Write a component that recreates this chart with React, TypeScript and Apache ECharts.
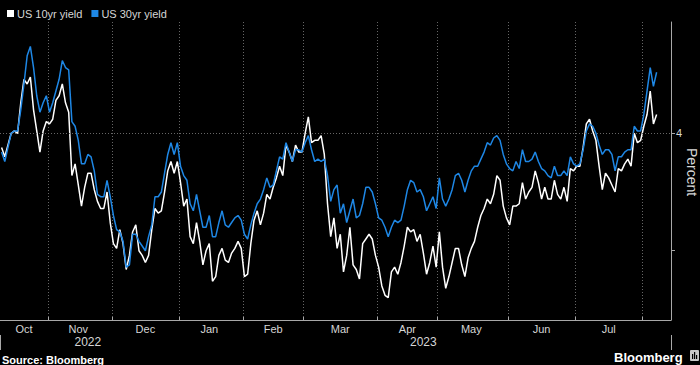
import React, { useEffect, useRef } from 'react';
import * as echarts from 'echarts';

// ---- Data ----
const START_DATE = '2022-10-11';
const END_DATE = '2023-08-11';
const HOLIDAYS = [
  '2022-11-11', '2022-11-24', '2022-12-26', '2023-01-02', '2023-01-16',
  '2023-02-20', '2023-04-07', '2023-05-29', '2023-06-19',
];
const MONTH_NAMES = ['Jan', 'Feb', 'Mar', 'Apr', 'May', 'Jun', 'Jul', 'Aug', 'Sep', 'Oct', 'Nov', 'Dec'];
const SERIES_NAMES = ['US 10yr yield', 'US 30yr yield'];
const Y_AXIS_NAME = 'Percent';

const US10Y = [
  // Oct 2022
  3.94, 3.90, 3.95, 4.00, 4.01, 4.00, 4.13, 4.23, 4.21, 4.24, 4.10, 4.01, 3.92, 4.01, 4.05,
  // Nov
  4.04, 4.06, 4.14, 4.16, 4.21, 4.13, 4.09, 3.82, 3.87, 3.78, 3.69, 3.77, 3.83, 3.83, 3.76, 3.71, 3.68, 3.68, 3.75, 3.62,
  // Dec
  3.53, 3.51, 3.59, 3.53, 3.42, 3.48, 3.58, 3.61, 3.50, 3.48, 3.45, 3.48, 3.59, 3.68, 3.66, 3.67, 3.75, 3.84, 3.88, 3.83, 3.88,
  // Jan 2023
  3.79, 3.69, 3.72, 3.56, 3.53, 3.62, 3.54, 3.44, 3.50, 3.53, 3.37, 3.39, 3.48, 3.51, 3.46, 3.45, 3.49, 3.51, 3.54, 3.51,
  // Feb
  3.39, 3.40, 3.53, 3.63, 3.67, 3.61, 3.66, 3.74, 3.72, 3.77, 3.81, 3.86, 3.82, 3.95, 3.92, 3.88, 3.95, 3.92, 3.92,
  // Mar
  4.00, 4.07, 3.96, 3.97, 3.97, 3.99, 3.91, 3.70, 3.56, 3.64, 3.51, 3.57, 3.41, 3.48, 3.60, 3.44, 3.42, 3.38, 3.53, 3.55, 3.57, 3.55, 3.48,
  // Apr
  3.43, 3.35, 3.31, 3.30, 3.41, 3.43, 3.40, 3.45, 3.52, 3.60, 3.58, 3.59, 3.54, 3.57, 3.49, 3.40, 3.45, 3.52, 3.43,
  // May
  3.58, 3.43, 3.34, 3.39, 3.45, 3.51, 3.51, 3.44, 3.39, 3.47, 3.51, 3.54, 3.60, 3.65, 3.68, 3.72, 3.70, 3.74, 3.82, 3.80, 3.69, 3.64,
  // Jun
  3.61, 3.69, 3.69, 3.70, 3.79, 3.72, 3.75, 3.77, 3.84, 3.79, 3.72, 3.77, 3.72, 3.72, 3.80, 3.74, 3.72, 3.77, 3.71, 3.85, 3.84,
  // Jul
  3.86, 3.86, 3.94, 4.04, 4.06, 4.01, 3.97, 3.86, 3.76, 3.83, 3.81, 3.78, 3.75, 3.85, 3.84, 3.87, 3.89, 3.86, 4.00, 3.96, 3.97,
  // Aug
  4.03, 4.08, 4.18, 4.04, 4.08,
];

const US30Y = [
  // Oct 2022
  3.92, 3.88, 3.94, 4.00, 4.01, 4.01, 4.10, 4.21, 4.33, 4.37, 4.28, 4.16, 4.09, 4.13, 4.16,
  // Nov
  4.09, 4.13, 4.18, 4.23, 4.31, 4.28, 4.27, 4.05, 4.03, 3.97, 3.87, 3.87, 3.91, 3.90, 3.84, 3.74, 3.73, 3.73, 3.80, 3.73,
  // Dec
  3.65, 3.59, 3.58, 3.54, 3.43, 3.44, 3.57, 3.57, 3.54, 3.52, 3.50, 3.56, 3.61, 3.73, 3.73, 3.75, 3.83, 3.91, 3.96, 3.91, 3.96,
  // Jan 2023
  3.86, 3.82, 3.80, 3.70, 3.67, 3.74, 3.67, 3.60, 3.60, 3.65, 3.56, 3.56, 3.62, 3.67, 3.61, 3.60, 3.62, 3.64, 3.65, 3.63,
  // Feb
  3.57, 3.55, 3.61, 3.66, 3.70, 3.72, 3.76, 3.81, 3.77, 3.78, 3.84, 3.90, 3.89, 3.96, 3.92, 3.88, 3.93, 3.93, 3.92,
  // Mar
  3.96, 3.99, 3.93, 3.88, 3.89, 3.88, 3.89, 3.82, 3.71, 3.76, 3.78, 3.66, 3.70, 3.62, 3.67, 3.72, 3.64, 3.65, 3.70, 3.77, 3.77, 3.75, 3.70,
  // Apr
  3.64, 3.63, 3.60, 3.56, 3.60, 3.63, 3.62, 3.63, 3.69, 3.76, 3.80, 3.79, 3.75, 3.76, 3.73, 3.67, 3.70, 3.73, 3.68,
  // May
  3.81, 3.72, 3.69, 3.72, 3.76, 3.82, 3.83, 3.80, 3.75, 3.80, 3.84, 3.86, 3.86, 3.89, 3.92, 3.96, 3.95, 3.98, 3.99, 3.97, 3.91, 3.87,
  // Jun
  3.85, 3.84, 3.88, 3.85, 3.93, 3.88, 3.88, 3.89, 3.92, 3.88, 3.85, 3.84, 3.82, 3.81, 3.86, 3.82, 3.82, 3.84, 3.82, 3.90, 3.87,
  // Jul
  3.86, 3.87, 3.93, 4.01, 4.04, 4.03, 4.00, 3.95, 3.91, 3.93, 3.93, 3.91, 3.84, 3.90, 3.90, 3.92, 3.93, 3.93, 4.03, 4.01, 4.01,
  // Aug
  4.08, 4.18, 4.28, 4.20, 4.26,
];

const Y_MIN = 3.205;
const Y_MAX = 4.474;
const Y_TICKS = [3.5, 4];
const Y_LABELS = [4];
const Y_GRID = [4];

// ---- Helpers ----
function tradingDays(): string[] {
  const out: string[] = [];
  const d = new Date(START_DATE + 'T00:00:00Z');
  const end = new Date(END_DATE + 'T00:00:00Z');
  while (d.getTime() <= end.getTime()) {
    const wd = d.getUTCDay();
    const s = d.toISOString().slice(0, 10);
    if (wd !== 0 && wd !== 6 && HOLIDAYS.indexOf(s) < 0) out.push(s);
    d.setUTCDate(d.getUTCDate() + 1);
  }
  return out;
}

const FONT = '"Liberation Sans", Arial, sans-serif';
const AXIS_COLOR = '#a8a8a8';
const TEXT_COLOR = '#d6d6d6';
const GRID_COLOR = '#666666';
const WHITE = '#ffffff';
const BLUE = '#1e87e5';

export default function App() {
  const ref = useRef<HTMLDivElement | null>(null);

  useEffect(() => {
    if (!ref.current) return;
    const chart = echarts.init(ref.current, null, { renderer: 'svg' });
    const dates = tradingDays();

    // month groups
    const monthStarts = new Set<number>();
    const monthMids = new Set<number>();
    const groups: { first: number; last: number }[] = [];
    dates.forEach((d, i) => {
      if (i === 0 || d.slice(0, 7) !== dates[i - 1].slice(0, 7)) {
        if (i > 0) monthStarts.add(i);
        groups.push({ first: i, last: i });
      } else {
        groups[groups.length - 1].last = i;
      }
    });
    groups.forEach((g) => {
      if (g.last - g.first + 1 >= 12) monthMids.add(Math.floor((g.first + g.last) / 2));
    });

    // year groups
    const yearMids = new Set<number>();
    let yearStart = -1;
    const ygroups: { first: number; last: number }[] = [];
    dates.forEach((d, i) => {
      if (i === 0 || d.slice(0, 4) !== dates[i - 1].slice(0, 4)) {
        if (i > 0) yearStart = i;
        ygroups.push({ first: i, last: i });
      } else {
        ygroups[ygroups.length - 1].last = i;
      }
    });
    ygroups.forEach((g) => yearMids.add(Math.floor((g.first + g.last) / 2)));

    const option: any = {
      animation: false,
      backgroundColor: '#000000',
      textStyle: { fontFamily: FONT },
      legend: {
        left: 2,
        top: 3,
        icon: 'rect',
        itemWidth: 7,
        itemHeight: 7,
        itemGap: 9,
        selectedMode: false,
        data: SERIES_NAMES,
        textStyle: { color: TEXT_COLOR, fontSize: 11, fontFamily: FONT, padding: [0, 0, 0, -2] },
      },
      grid: { left: 0, right: 29, top: 22, bottom: 45, containLabel: false, outerBoundsMode: 'none' },
      xAxis: [
        {
          type: 'category',
          data: dates,
          boundaryGap: true,
          position: 'bottom',
          axisLine: { show: true, lineStyle: { color: AXIS_COLOR, width: 1 } },
          axisTick: {
            show: true,
            inside: true,
            length: 3,
            interval: (i: number) => monthStarts.has(i),
            lineStyle: { color: AXIS_COLOR },
          },
          axisLabel: {
            show: true,
            interval: (i: number) => monthMids.has(i),
            formatter: (v: string) => MONTH_NAMES[parseInt(v.slice(5, 7), 10) - 1],
            color: TEXT_COLOR,
            fontSize: 11,
            fontFamily: FONT,
            margin: 3,
          },
          splitLine: {
            show: true,
            interval: (i: number) => monthStarts.has(i),
            lineStyle: { color: GRID_COLOR, type: [1, 2], width: 1 },
          },
        },
        {
          type: 'category',
          data: dates,
          boundaryGap: true,
          position: 'bottom',
          offset: 15,
          axisLine: { show: false },
          axisTick: {
            show: true,
            length: 15,
            interval: (i: number) => i === yearStart,
            lineStyle: { color: AXIS_COLOR },
          },
          axisLabel: {
            show: true,
            interval: (i: number) => yearMids.has(i),
            formatter: (v: string) => v.slice(0, 4),
            color: TEXT_COLOR,
            fontSize: 12,
            fontFamily: FONT,
            margin: 1,
          },
          splitLine: { show: false },
        },
      ],
      yAxis: {
        type: 'value',
        position: 'right',
        min: Y_MIN,
        max: Y_MAX,
        axisLine: { show: true, lineStyle: { color: AXIS_COLOR, width: 1 } },
        axisTick: { show: true, length: 4, customValues: Y_TICKS, lineStyle: { color: AXIS_COLOR } },
        axisLabel: { show: true, customValues: Y_LABELS, color: TEXT_COLOR, fontSize: 11, fontFamily: FONT, margin: 5 },
        splitLine: { show: false },
      },
      series: [
        {
          name: SERIES_NAMES[0],
          type: 'line',
          data: US10Y,
          xAxisIndex: 0,
          symbol: 'none',
          lineStyle: { color: WHITE, width: 1.5 },
          itemStyle: { color: WHITE },
          markLine: {
            silent: true,
            symbol: 'none',
            label: { show: false },
            lineStyle: { color: GRID_COLOR, type: [1, 2], width: 1 },
            data: Y_GRID.map((v) => ({ yAxis: v })),
          },
        },
        {
          name: SERIES_NAMES[1],
          type: 'line',
          data: US30Y,
          xAxisIndex: 0,
          symbol: 'none',
          lineStyle: { color: BLUE, width: 1.5 },
          itemStyle: { color: BLUE },
        },
      ],
      graphic: [
        {
          type: 'text',
          x: 691.5,
          y: 172,
          rotation: -Math.PI / 2,
          style: {
            text: Y_AXIS_NAME,
            fill: TEXT_COLOR,
            font: '14px "Liberation Sans", Arial, sans-serif',
            align: 'center',
            verticalAlign: 'middle',
          },
        },
        {
          type: 'text',
          x: 2,
          y: 365.5,
          style: {
            text: 'Source: Bloomberg',
            fill: '#ffffff',
            font: 'bold 11px "Liberation Sans", Arial, sans-serif',
            verticalAlign: 'bottom',
          },
        },
        {
          type: 'text',
          x: 614,
          y: 364,
          style: {
            text: 'Bloomberg',
            fill: '#ffffff',
            font: 'bold 13px "Liberation Sans", Arial, sans-serif',
            verticalAlign: 'bottom',
          },
        },
        {
          type: 'group',
          x: 690,
          y: 350,
          children: [
            { type: 'rect', shape: { x: 0, y: 0, width: 9, height: 11, r: 1 }, style: { fill: '#c9c9c9' } },
            { type: 'rect', shape: { x: 2, y: 4, width: 1.2, height: 5 }, style: { fill: '#000' } },
            { type: 'rect', shape: { x: 4, y: 2, width: 1.2, height: 7 }, style: { fill: '#000' } },
            { type: 'rect', shape: { x: 6, y: 5, width: 1.2, height: 4 }, style: { fill: '#000' } },
          ],
        },
      ],
    };

    chart.setOption(option);
    return () => chart.dispose();
  }, []);

  return (
    <div
      ref={ref}
      style={{ position: 'fixed', left: 0, top: 0, width: 700, height: 365, background: '#000' }}
    />
  );
}
